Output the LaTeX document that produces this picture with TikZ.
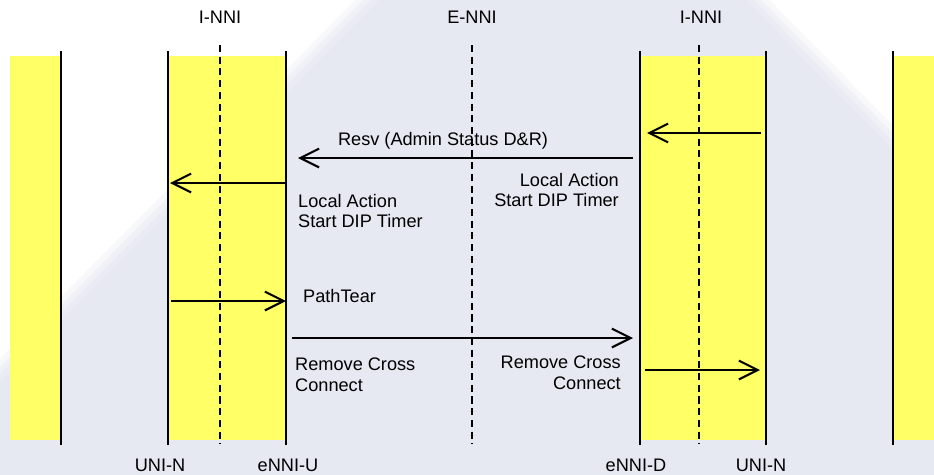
\documentclass[tikz,border=0pt]{standalone}
\usepackage{fontspec}
\setmainfont{Liberation Sans}
\usetikzlibrary{arrows.meta}
\definecolor{bggray}{RGB}{230,232,242}
\definecolor{bandyellow}{RGB}{255,255,102}
\tikzset{
  lifeline/.style={line width=1.8pt},
  refline/.style={line width=1.4pt, dash pattern=on 6pt off 4pt},
  msg/.style={line width=1.8pt, -{Straight Barb[length=16pt,width=16pt,line width=1.8pt]}},
  lbl/.style={font=\fontsize{15.5}{17.8}\selectfont, inner sep=0pt},
}
\begin{document}
\begin{tikzpicture}[x=0.03cm,y=-0.03cm]
\useasboundingbox (0,0) rectangle (934,474);
\begin{scope}
\clip (0,0) rectangle (934,474);
\fill[white] (0,0) rectangle (934,474);
\foreach \k/\c in {-12/30,-4/60,4/85,12/100}
{
\fill[bggray!\c] (397+\k,-30) -- (728-\k,-30) -- (960,206+\k) -- (960,520) -- (-20,520) -- (-20,391+\k) -- cycle;
}
\end{scope}

% yellow bands and lifelines
\foreach \a/\b in {10/61,168/286,640/766,893/934}
\fill[bandyellow] (\a,56) rectangle (\b,440);
\foreach \x in {61,168,286,640,766,893}
\draw[lifeline] (\x,51) -- (\x,445);
\foreach \x in {220,472,699}
\draw[refline] (\x,45) -- (\x,444);

\node[lbl] (innil) at (220,17) {I-NNI};
\node[lbl] (enni) at (472,17) {E-NNI};
\node[lbl] (innir) at (701,17) {I-NNI};
\node[lbl] (unil) at (160,465) {UNI-N};
\node[lbl] (ennu) at (288,465) {eNNI-U};
\node[lbl] (ennd) at (636,465) {eNNI-D};
\node[lbl] (unir) at (761,465) {UNI-N};

% message end points
\foreach \n/\x/\y in {resvs/761/133,resve/647/133,dres/633/158,dree/298/158,
locs/286/183,loce/170/183,tears/171/301,teare/286/301,
dtears/292/338,dteare/633/338,xcs/645/370,xce/760/370}
\coordinate (\n) at (\x,\y);

\draw[msg] (resvs) -- (resve);
\draw[msg] (dres) -- (dree);
\draw[msg] (locs) -- (loce);
\draw[msg] (tears) -- (teare);
\draw[msg] (dtears) -- (dteare);
\draw[msg] (xcs) -- (xce);

\node[lbl] (resvlbl) at (443,141) {Resv (Admin Status D\&R)};
\node[lbl,anchor=west,align=left] (locall) at (298,211) {Local Action\\Start DIP Timer};
\node[lbl,anchor=east,align=right] (localr) at (619,190) {Local Action\\Start DIP Timer};
\node[lbl,anchor=west] (teartxt) at (303,296) {PathTear};
\node[lbl,anchor=west,align=left] (crossl) at (295,375) {Remove Cross\\Connect};
\node[lbl,anchor=east,align=right] (crossr) at (621,373) {Remove Cross\\Connect};
\end{tikzpicture}
\end{document}
